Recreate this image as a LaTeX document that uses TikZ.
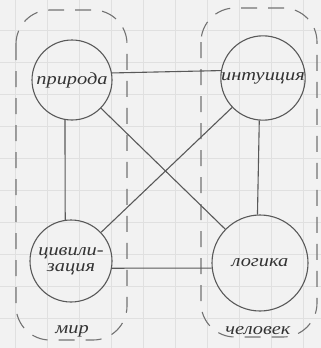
\documentclass[tikz,border=0pt]{standalone}
\usepackage{fontspec}
\setmainfont{Liberation Serif}
\newfontfamily\hand{Liberation Serif}[UprightFont=* Italic, FakeStretch=1.2]
\begin{document}
\begin{tikzpicture}[x=1pt,y=-1pt,
  ink/.style={draw=black!65, line width=1.1pt},
  topic/.style={circle, ink, inner sep=0pt, font=\hand\fontsize{17}{17}\selectfont, text=black!80},
  link/.style={ink},
  group/.style={draw=black!55, line width=1.1pt, dash pattern=on 16pt off 11pt, rounded corners=34pt},
  caption/.style={font=\hand\fontsize{17}{17}\selectfont, text=black!80}]
  % squared paper
  \fill[black!5] (0,0) rectangle (321,348);
  \useasboundingbox (0,0) rectangle (321,348);
  \foreach \xx in {15,47,...,303} \draw[black!12, line width=0.6pt] (\xx,0) -- (\xx,348);
  \foreach \yy in {30,62,...,318} \draw[black!12, line width=0.6pt] (0,\yy) -- (321,\yy);

  % the two groups
  \draw[group] (16,10) rectangle (127,340);
  \draw[group] (201,8) rectangle (317,337);
  \node[caption] (mir) at (72,331) {мир};
  \node[caption] (man) at (258,331) {человек};

  % four notions
  \node[topic, minimum size=80pt] (nat) at (72,80) {природа};
  \node[topic, minimum size=83pt] (int) at (263,78) {интуиция};
  \node[topic, minimum size=82pt, align=center] (civ) at (71,261) {цивили-\\[-1pt]зация};
  \node[topic, minimum size=96pt] (log) at (260,263) {логика};

  % connections
  \draw[link] (nat.10) -- (int.170);
  \draw[link] (civ.350) -- (log.186);
  \draw[link] (nat.260) -- (civ.98);
  \draw[link] (int.265) -- (log.93);
  \draw[link] (nat) -- (log);
  \draw[link] (int) -- (civ);
\end{tikzpicture}
\end{document}
